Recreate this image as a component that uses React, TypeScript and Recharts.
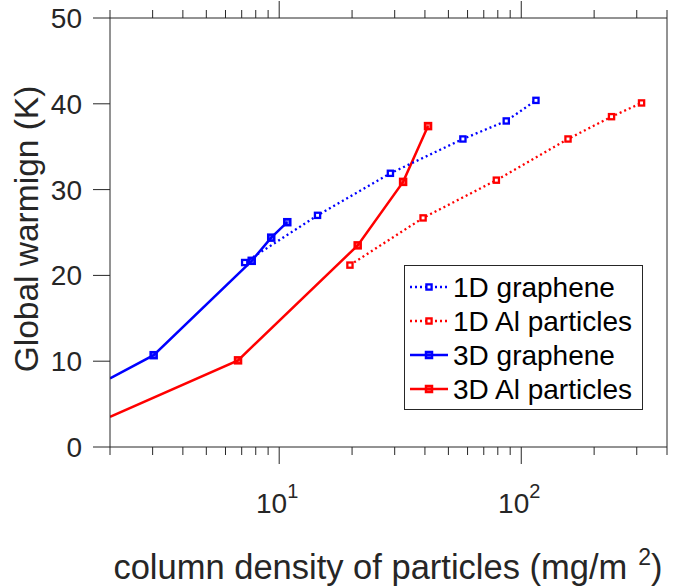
import React from "react";
import { LineChart, Line, XAxis, YAxis, Customized } from "recharts";

// ---- data ----
const graphene1dX = [7.2, 14.4, 28.8, 57.4, 86.7, 115];
const graphene1dY = [21.5, 27.0, 31.9, 35.9, 38.0, 40.4];
const al1dX = [19.6, 39.3, 78.9, 156, 236, 314];
const al1dY = [21.2, 26.7, 31.1, 35.9, 38.5, 40.1];
const graphene3dX = [2, 3.03, 7.7, 9.27, 10.8];
const graphene3dY = [8.0, 10.7, 21.7, 24.4, 26.2];
const al3dX = [2, 6.76, 21.1, 32.5, 41.2];
const al3dY = [3.5, 10.1, 23.5, 30.9, 37.4];

const xTicks = [2, 3, 4, 5, 6, 7, 8, 9, 10, 20, 30, 40, 50, 60, 70, 80, 90, 100, 200, 300, 400];
const xMajor: Record<number, string> = { 10: "1", 100: "2" };
const yTicks = [0, 10, 20, 30, 40, 50];

const seriesNames = ["1D graphene", "1D Al particles", "3D graphene", "3D Al particles"];
const xLabel = "column density of particles (mg/m";
const xLabelSup = "2";
const yLabel = "Global warmign (K)";

const zip = (xs: number[], ys: number[]) => xs.map((x, i) => ({ x, y: ys[i] }));
const d1g = zip(graphene1dX, graphene1dY);
const d1a = zip(al1dX, al1dY);
const d3g = zip(graphene3dX, graphene3dY);
const d3a = zip(al3dX, al3dY);

const BLUE = "#0000ff";
const RED = "#ff0000";
const AX = "#262626";
const FONT = "'Liberation Sans', Arial, Helvetica, sans-serif";

const Marker = ({ cx, cy, color, solid }: any) =>
  solid ? (
    <rect x={cx - 3} y={cy - 3} width={6} height={6} fill={color} fillOpacity={0.55} stroke={color} strokeWidth={2.5} />
  ) : (
    <rect x={cx - 2.6} y={cy - 2.6} width={5.2} height={5.2} fill="#fff" stroke={color} strokeWidth={2.3} />
  );

const makeDot = (color: string, solid: boolean, skipFirst: boolean) => (props: any) => {
  const { cx, cy, index } = props;
  if ((skipFirst && index === 0) || cx == null || cy == null) return <g key={`d${index}`} />;
  return (
    <g key={`d${index}`}>
      <Marker cx={cx} cy={cy} color={color} solid={solid} />
    </g>
  );
};

const BottomTick = (props: any) => {
  const { x, payload } = props;
  const y = 447;
  const v = payload.value;
  const sup = xMajor[v];
  const len = sup ? 17 : 8;
  return (
    <g>
      <line x1={x} x2={x} y1={y} y2={y + len} stroke={AX} strokeWidth={1} />
      {sup && (
        <text x={x - 2} y={513} textAnchor="middle" fill={AX} fontSize={28} fontFamily={FONT}>
          10
          <tspan dy={-15} fontSize={20}>
            {sup}
          </tspan>
        </text>
      )}
    </g>
  );
};

const TopTick = (props: any) => {
  const { x, payload } = props;
  const y = 18;
  const len = xMajor[payload.value] ? 17 : 8;
  return <line x1={x} x2={x} y1={y} y2={y - len} stroke={AX} strokeWidth={1} />;
};

const LeftTick = (props: any) => {
  const { y, payload } = props;
  const x = 110;
  return (
    <g>
      <line x1={x - 17} x2={x} y1={y} y2={y} stroke={AX} strokeWidth={1} />
      <text x={x - 28} y={y} dy="0.36em" textAnchor="end" fill={AX} fontSize={28} fontFamily={FONT}>
        {payload.value}
      </text>
    </g>
  );
};

const RightTick = (props: any) => {
  const { y } = props;
  const x = 667;
  return <line x1={x} x2={x + 17} y1={y} y2={y} stroke={AX} strokeWidth={1} />;
};

const legendItems = [
  { name: seriesNames[0], color: BLUE, dash: "2 3", solid: false },
  { name: seriesNames[1], color: RED, dash: "2 3", solid: false },
  { name: seriesNames[2], color: BLUE, dash: undefined, solid: true },
  { name: seriesNames[3], color: RED, dash: undefined, solid: true },
];

const Decorations = () => (
  <g>
    <text
      transform="translate(26,229) rotate(-90)"
      textAnchor="middle"
      dy="0.36em"
      fill={AX}
      fontSize={33.5}
      fontFamily={FONT}
    >
      {yLabel}
    </text>
    <text x={388} y={579} textAnchor="middle" fill={AX} fontSize={34.5} fontFamily={FONT}>
      {xLabel}
      <tspan dx={11} dy={-14} fontSize={23}>
        {xLabelSup}
      </tspan>
      <tspan dy={14}>)</tspan>
    </text>
    <g>
      <rect x={404.5} y={265.5} width={238} height={144} fill="#fff" stroke={AX} strokeWidth={1} />
      {legendItems.map((it, i) => {
        const cy = 287 + i * 34;
        return (
          <g key={it.name}>
            <line x1={410} x2={448} y1={cy} y2={cy} stroke={it.color} strokeWidth={2.3} strokeDasharray={it.dash} />
            <Marker cx={429} cy={cy} color={it.color} solid={it.solid} />
            <text x={453} y={cy} dy="0.35em" fill="#000" fontSize={28} fontFamily={FONT}>
              {it.name}
            </text>
          </g>
        );
      })}
    </g>
  </g>
);

export default function App() {
  return (
    <div style={{ position: "absolute", left: 0, top: 0, background: "#fff" }}>
      <LineChart width={681} height={588} margin={{ top: 17, right: 13, bottom: 140, left: 0 }}>
        <XAxis
          xAxisId="b"
          dataKey="x"
          type="number"
          scale="log"
          domain={[2, 400]}
          allowDataOverflow
          ticks={xTicks}
          interval={0}
          tickSize={0}
          tickMargin={0}
          tickLine={false}
          tick={<BottomTick />}
          axisLine={{ stroke: AX }}
          height={1}
          orientation="bottom"
        />
        <XAxis
          xAxisId="t"
          dataKey="x"
          type="number"
          scale="log"
          domain={[2, 400]}
          allowDataOverflow
          ticks={xTicks}
          interval={0}
          tickSize={0}
          tickMargin={0}
          tickLine={false}
          tick={<TopTick />}
          axisLine={{ stroke: AX }}
          height={1}
          orientation="top"
        />
        <YAxis
          yAxisId="l"
          type="number"
          domain={[0, 50]}
          ticks={yTicks}
          interval={0}
          tickSize={0}
          tickMargin={0}
          tickLine={false}
          tick={<LeftTick />}
          axisLine={{ stroke: AX }}
          width={110}
          orientation="left"
        />
        <YAxis
          yAxisId="r"
          type="number"
          domain={[0, 50]}
          ticks={yTicks}
          interval={0}
          tickSize={0}
          tickMargin={0}
          tickLine={false}
          tick={<RightTick />}
          axisLine={{ stroke: AX }}
          width={1}
          orientation="right"
        />
        <Line
          xAxisId="b"
          yAxisId="l"
          data={d3g}
          dataKey="y"
          stroke={BLUE}
          strokeWidth={2.5}
          dot={makeDot(BLUE, true, true)}
          isAnimationActive={false}
        />
        <Line
          xAxisId="b"
          yAxisId="l"
          data={d3a}
          dataKey="y"
          stroke={RED}
          strokeWidth={2.5}
          dot={makeDot(RED, true, true)}
          isAnimationActive={false}
        />
        <Line
          xAxisId="b"
          yAxisId="l"
          data={d1g}
          dataKey="y"
          stroke={BLUE}
          strokeWidth={2.3}
          strokeDasharray="2 3"
          dot={makeDot(BLUE, false, false)}
          isAnimationActive={false}
        />
        <Line
          xAxisId="b"
          yAxisId="l"
          data={d1a}
          dataKey="y"
          stroke={RED}
          strokeWidth={2.3}
          strokeDasharray="2 3"
          dot={makeDot(RED, false, false)}
          isAnimationActive={false}
        />
        <Customized component={<Decorations />} />
      </LineChart>
    </div>
  );
}
